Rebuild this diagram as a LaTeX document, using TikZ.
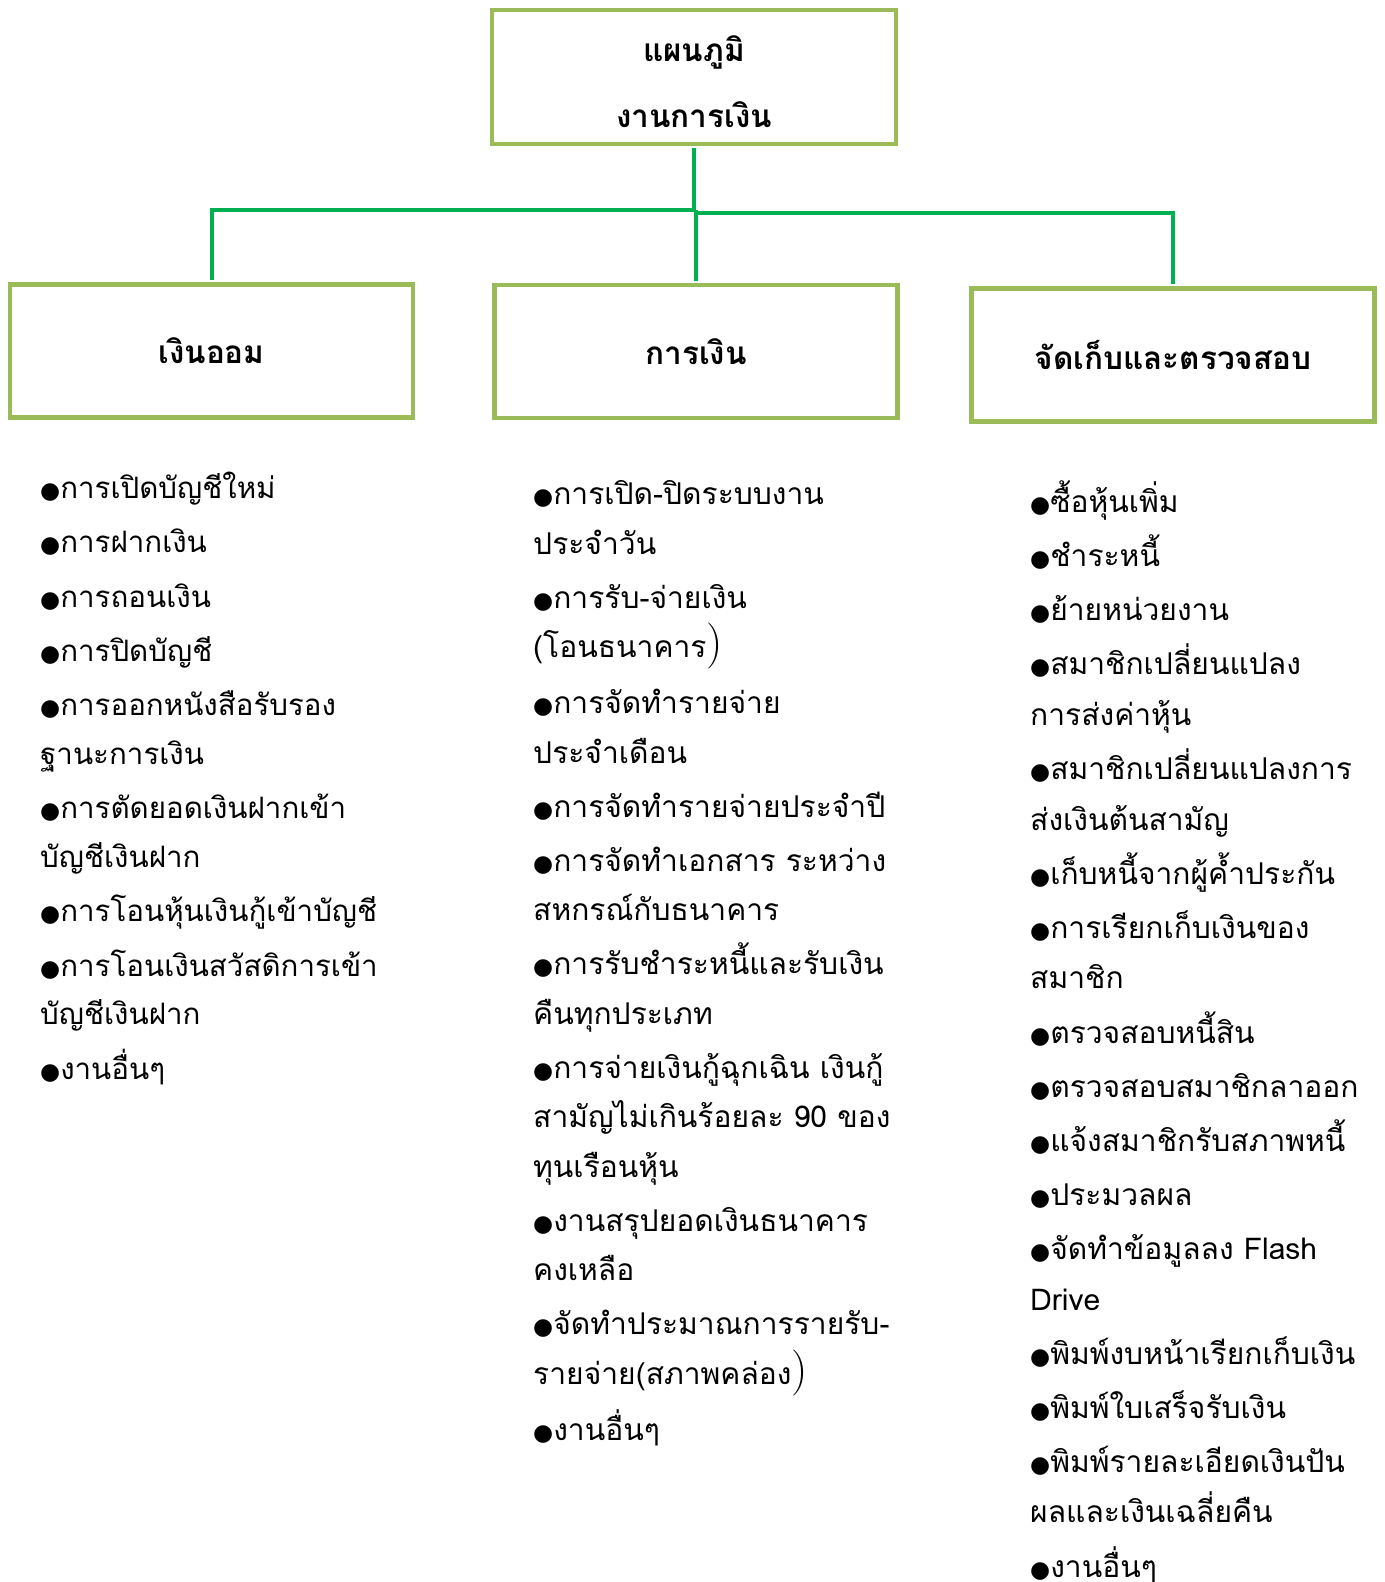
\documentclass[tikz,border=0pt]{standalone}
\usepackage{fontspec}
\newfontfamily\thaifont[Script=Thai]{Loma}
\newfontfamily\symfont{DejaVu Sans}
\definecolor{boxgreen}{HTML}{9BBB59}
\definecolor{linkgreen}{HTML}{00B050}
% bullet and the large closing bracket of the source
\newcommand{\bul}{{\symfont\fontsize{23}{23}\selectfont ●}}
\newcommand{\bigpar}{{\normalfont\fontsize{46}{46}\selectfont )}}

\begin{document}
\begin{tikzpicture}[
        x=1pt, y=-1pt,
        box/.style={draw=boxgreen, line width=4.5pt, fill=white, minimum width=403pt, minimum height=133pt,
            align=center, font=\thaifont\bfseries\fontsize{31.5}{66}\selectfont},
        list/.style={anchor=base west, inner sep=0pt, align=left},
        link/.style={draw=linkgreen, line width=4pt}
    ]
    \useasboundingbox (0,0) rectangle (1384,1582);

    % Boxes
    \node[box, minimum width=404pt, minimum height=134pt] (title) at (694,77) {\rule{0pt}{36pt}แผนภูมิ\\งานการเงิน};
    \node[box] (saving) at (211.5,351) {เงินออม};
    \node[box] (finance) at (696,351.5) {การเงิน};
    \node[box] (check) at (1173,355) {จัดเก็บและตรวจสอบ};

    % Connectors
    \coordinate (hubl) at (694,210);
    \coordinate (hubr) at (694,213);
    \draw[link, shorten <=2.2pt] (title.south) -- (hubl);
    \draw[link, shorten >=2.2pt] (hubl) -| (saving.north);
    \draw[link, shorten >=2.2pt] (hubr) -| (check.north);
    \draw[link, shorten >=2.2pt] (finance.north |- hubl) -- (finance.north);

    % Lists (placed by the baseline of their last line)
    \node[list, font=\thaifont\fontsize{29.5}{48.7}\selectfont] (savinglist) at (40,1079) {%
        \bul การเปิดบัญชีใหม่\\[5.6pt]
        \bul การฝากเงิน\\[5.6pt]
        \bul การถอนเงิน\\[5.6pt]
        \bul การปิดบัญชี\\[5.6pt]
        \bul การออกหนังสือรับรอง\\
        ฐานะการเงิน\\[5.6pt]
        \bul การตัดยอดเงินฝากเข้า\\
        บัญชีเงินฝาก\\[5.6pt]
        \bul การโอนหุ้นเงินกู้เข้าบัญชี\\[5.6pt]
        \bul การโอนเงินสวัสดิการเข้า\\
        บัญชีเงินฝาก\\[5.6pt]
        \bul งานอื่นๆ};

    \node[list, font=\thaifont\fontsize{30}{49.5}\selectfont] (financelist) at (533,1440) {%
        \bul การเปิด-ปิดระบบงาน\\
        ประจำวัน\\[4.5pt]
        \bul การรับ-จ่ายเงิน\\
        (โอนธนาคาร\bigpar\\[6.5pt]
        \bul การจัดทำรายจ่าย\\
        ประจำเดือน\\[4.5pt]
        \bul การจัดทำรายจ่ายประจำปี\\[4.5pt]
        \bul การจัดทำเอกสาร ระหว่าง\\
        สหกรณ์กับธนาคาร\\[4.5pt]
        \bul การรับชำระหนี้และรับเงิน\\
        คืนทุกประเภท\\[4.5pt]
        \bul การจ่ายเงินกู้ฉุกเฉิน เงินกู้\\
        สามัญไม่เกินร้อยละ 90 ของ\\
        ทุนเรือนหุ้น\\[4.5pt]
        \bul งานสรุปยอดเงินธนาคาร\\
        คงเหลือ\\[4.5pt]
        \bul จัดทำประมาณการรายรับ-\\
        รายจ่าย(สภาพคล่อง\bigpar\\[6.5pt]
        \bul งานอื่นๆ};

    \node[list, font=\thaifont\fontsize{30}{50.6}\selectfont] (checklist) at (1030,1577) {%
        \bul ซื้อหุ้นเพิ่ม\\[3.5pt]
        \bul ชำระหนี้\\[3.5pt]
        \bul ย้ายหน่วยงาน\\[3.5pt]
        \bul สมาชิกเปลี่ยนแปลง\\
        การส่งค่าหุ้น\\[3.5pt]
        \bul สมาชิกเปลี่ยนแปลงการ\\
        ส่งเงินต้นสามัญ\\[3.5pt]
        \bul เก็บหนี้จากผู้ค้ำประกัน\\[3.5pt]
        \bul การเรียกเก็บเงินของ\\
        สมาชิก\\[3.5pt]
        \bul ตรวจสอบหนี้สิน\\[3.5pt]
        \bul ตรวจสอบสมาชิกลาออก\\[3.5pt]
        \bul แจ้งสมาชิกรับสภาพหนี้\\[3.5pt]
        \bul ประมวลผล\\[3.5pt]
        \bul จัดทำข้อมูลลง Flash\\
        Drive\\[3.5pt]
        \bul พิมพ์งบหน้าเรียกเก็บเงิน\\[3.5pt]
        \bul พิมพ์ใบเสร็จรับเงิน\\[3.5pt]
        \bul พิมพ์รายละเอียดเงินปัน\\
        ผลและเงินเฉลี่ยคืน\\[3.5pt]
        \bul งานอื่นๆ};

\end{tikzpicture}
\end{document}
